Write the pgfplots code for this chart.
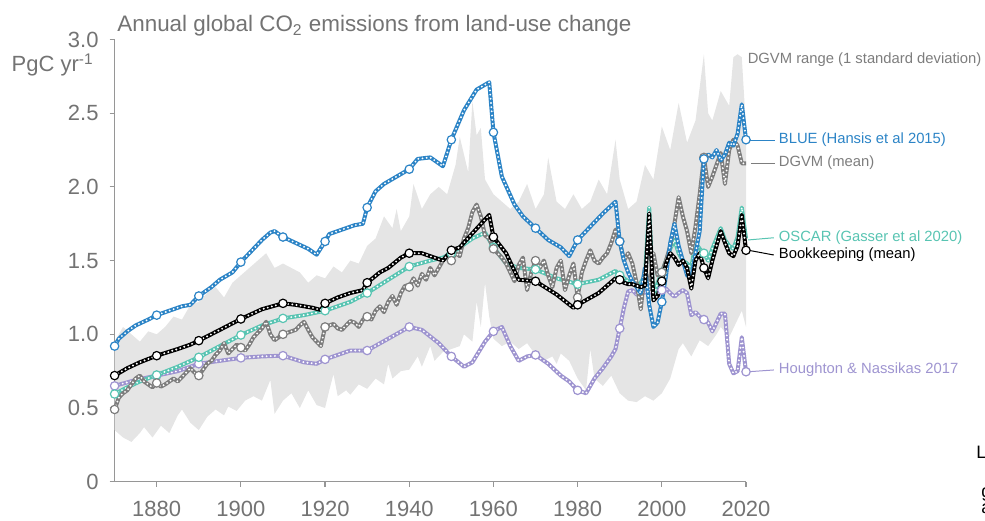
\documentclass[border=0pt]{standalone}
\usepackage{pgfplots}
\pgfplotsset{compat=1.18}
\usepackage{pgfplotstable}
\usepgfplotslibrary{fillbetween}
\usepackage{fontspec}
\setmainfont{Liberation Sans}

\definecolor{blueC}{RGB}{44,132,198}
\definecolor{tealC}{RGB}{88,196,178}
\definecolor{lavC}{RGB}{158,148,208}
\definecolor{dgvmC}{RGB}{125,125,125}
\definecolor{bandC}{RGB}{229,229,229}
\definecolor{txtC}{RGB}{115,115,115}
\definecolor{axC}{RGB}{150,150,150}

% BLUE (Hansis et al 2015)
\pgfplotstableread{
year val
1870 0.92
1871 0.97
1873 1.02
1875 1.06
1878 1.10
1880 1.13
1883 1.16
1886 1.19
1888 1.20
1890 1.26
1893 1.32
1895 1.37
1898 1.42
1900 1.49
1903 1.58
1905 1.64
1907 1.69
1908 1.70
1910 1.66
1913 1.62
1916 1.58
1918 1.54
1920 1.63
1921 1.68
1924 1.71
1927 1.74
1929 1.75
1930 1.86
1932 1.97
1934 2.02
1937 2.07
1940 2.12
1942 2.19
1945 2.20
1948 2.14
1950 2.32
1953 2.52
1956 2.66
1959 2.71
1960 2.37
1962 2.07
1965 1.88
1967 1.80
1970 1.72
1973 1.64
1976 1.59
1978 1.53
1980 1.64
1983 1.73
1986 1.82
1989 1.90
1990 1.63
1991 1.50
1992 1.42
1993 1.36
1994 1.32
1995 1.28
1996 1.45
1997 1.20
1998 1.05
1999 1.08
2000 1.22
2001 1.40
2002 1.62
2003 1.75
2004 1.60
2005 1.50
2006 1.40
2007 1.38
2008 1.55
2009 1.70
2010 2.19
2011 2.22
2012 2.20
2013 2.25
2014 2.18
2015 2.22
2016 2.30
2017 2.28
2018 2.36
2019 2.56
2020 2.32
}\blueT

% DGVM (mean)
\pgfplotstableread{
year val
1870 0.49
1871 0.57
1872 0.60
1873 0.62
1874 0.66
1875 0.70
1876 0.72
1877 0.68
1878 0.66
1879 0.64
1880 0.67
1881 0.645
1882 0.66
1883 0.68
1884 0.70
1885 0.68
1886 0.71
1887 0.74
1888 0.77
1889 0.74
1890 0.72
1891 0.76
1892 0.80
1893 0.82
1894 0.86
1895 0.89
1896 0.94
1897 0.87
1898 0.90
1899 0.93
1900 0.91
1901 0.89
1902 0.93
1903 0.98
1904 1.01
1905 1.04
1906 1.085
1907 1.00
1908 0.96
1909 0.98
1910 1.00
1911 1.01
1912 1.02
1913 1.03
1914 1.06
1915 1.085
1916 1.03
1917 0.98
1918 0.95
1919 0.92
1920 1.05
1921 1.06
1922 1.07
1923 1.04
1924 1.03
1925 1.06
1926 1.09
1927 1.08
1928 1.05
1929 1.10
1930 1.12
1931 1.10
1932 1.16
1933 1.19
1934 1.15
1935 1.22
1936 1.26
1937 1.20
1938 1.28
1939 1.33
1940 1.32
1941 1.38
1942 1.33
1943 1.41
1944 1.37
1945 1.45
1946 1.40
1947 1.45
1948 1.50
1949 1.53
1950 1.50
1951 1.55
1952 1.53
1953 1.65
1954 1.72
1955 1.83
1956 1.88
1957 1.80
1958 1.67
1959 1.65
1960 1.58
1961 1.55
1962 1.52
1963 1.48
1964 1.42
1965 1.36
1966 1.47
1967 1.52
1968 1.30
1969 1.42
1970 1.50
1971 1.45
1972 1.50
1973 1.40
1974 1.32
1975 1.45
1976 1.50
1977 1.30
1978 1.40
1979 1.48
1980 1.25
1981 1.42
1982 1.50
1983 1.57
1984 1.50
1985 1.48
1986 1.52
1987 1.55
1988 1.62
1989 1.71
1990 1.63
1991 1.50
1992 1.55
1993 1.48
1994 1.35
1995 1.17
1996 1.45
1997 1.30
1998 1.55
1999 1.40
2000 1.42
2001 1.50
2002 1.60
2003 1.75
2004 1.93
2005 1.80
2006 1.70
2007 1.55
2008 1.73
2009 1.95
2010 2.20
2011 2.00
2012 2.07
2013 2.15
2014 2.23
2015 2.02
2016 2.25
2017 2.32
2018 2.28
2019 2.16
2020 2.16
}\dgvmT

% OSCAR (Gasser et al 2020)
\pgfplotstableread{
year val
1870 0.595
1873 0.64
1876 0.68
1880 0.724
1885 0.78
1890 0.844
1895 0.92
1900 0.995
1905 1.06
1910 1.108
1915 1.13
1920 1.16
1926 1.22
1930 1.28
1935 1.37
1940 1.46
1945 1.50
1948 1.52
1950 1.55
1955 1.65
1958 1.69
1960 1.59
1963 1.48
1966 1.45
1970 1.44
1975 1.38
1980 1.34
1985 1.37
1989 1.43
1990 1.40
1991 1.38
1992 1.36
1993 1.35
1994 1.33
1995 1.35
1996 1.40
1997 1.86
1998 1.24
1999 1.35
2000 1.42
2001 1.50
2002 1.58
2003 1.64
2004 1.55
2005 1.50
2006 1.48
2007 1.45
2008 1.62
2009 1.58
2010 1.55
2011 1.50
2012 1.58
2013 1.65
2014 1.72
2015 1.64
2016 1.60
2017 1.58
2018 1.66
2019 1.86
2020 1.65
}\oscarT

% Bookkeeping (mean)
\pgfplotstableread{
year val
1870 0.72
1873 0.77
1876 0.81
1880 0.855
1885 0.90
1888 0.93
1890 0.957
1895 1.03
1900 1.104
1905 1.17
1910 1.21
1913 1.20
1917 1.18
1919 1.165
1920 1.21
1923 1.25
1926 1.28
1929 1.30
1930 1.35
1933 1.42
1935 1.45
1938 1.52
1940 1.55
1943 1.55
1946 1.52
1948 1.50
1950 1.57
1952 1.59
1955 1.685
1959 1.81
1960 1.66
1963 1.55
1966 1.37
1970 1.36
1975 1.27
1979 1.18
1980 1.20
1985 1.28
1989 1.38
1990 1.37
1991 1.35
1992 1.34
1993 1.34
1994 1.33
1995 1.32
1996 1.33
1997 1.82
1998 1.23
1999 1.26
2000 1.36
2001 1.48
2002 1.55
2003 1.52
2004 1.47
2005 1.50
2006 1.45
2007 1.31
2008 1.50
2009 1.55
2010 1.45
2011 1.38
2012 1.50
2013 1.60
2014 1.70
2015 1.62
2016 1.55
2017 1.53
2018 1.60
2019 1.81
2020 1.57
}\bookT

% Houghton & Nassikas 2017
\pgfplotstableread{
year val
1870 0.65
1875 0.69
1880 0.72
1885 0.75
1889 0.79
1890 0.80
1895 0.82
1900 0.84
1905 0.85
1910 0.855
1915 0.81
1918 0.80
1920 0.83
1923 0.86
1926 0.89
1930 0.89
1935 0.97
1940 1.05
1943 1.03
1947 0.94
1950 0.85
1953 0.78
1955 0.81
1958 0.95
1960 1.02
1962 1.05
1964 0.92
1966 0.82
1968 0.85
1970 0.86
1973 0.80
1976 0.72
1978 0.68
1980 0.62
1982 0.60
1984 0.70
1986 0.77
1988 0.85
1989 0.90
1990 1.04
1991 1.18
1992 1.29
1993 1.30
1994 1.27
1995 1.30
1996 1.28
1997 1.31
1998 1.26
1999 1.29
2000 1.30
2001 1.31
2002 1.28
2003 1.255
2004 1.28
2005 1.30
2006 1.28
2007 1.13
2008 1.15
2009 1.12
2010 1.10
2011 1.08
2012 1.02
2013 1.08
2014 1.14
2015 1.14
2016 0.80
2017 0.735
2018 0.75
2019 0.98
2020 0.746
}\hnT

% DGVM range, upper and lower edge
\pgfplotstableread{
year val
1870 0.95
1872 1.05
1874 1.00
1876 0.95
1878 1.02
1880 1.00
1882 1.05
1884 1.12
1886 1.10
1888 1.20
1890 1.22
1892 1.28
1894 1.32
1896 1.25
1898 1.35
1900 1.40
1902 1.45
1904 1.50
1906 1.55
1908 1.45
1910 1.48
1912 1.45
1914 1.42
1916 1.35
1918 1.40
1920 1.38
1922 1.46
1924 1.42
1926 1.50
1928 1.48
1930 1.60
1932 1.65
1934 1.80
1936 1.72
1937 1.85
1938 1.70
1940 1.80
1941 2.02
1943 1.85
1945 1.95
1947 2.00
1949 1.95
1951 2.15
1952 2.34
1954 2.10
1955 2.58
1956 2.35
1957 2.40
1958 2.05
1960 1.95
1962 1.90
1964 1.85
1966 1.90
1968 2.02
1970 1.85
1972 1.95
1973 2.20
1975 1.90
1977 1.85
1979 1.95
1981 1.85
1983 1.90
1985 2.05
1987 1.95
1989 2.32
1990 2.05
1992 1.85
1994 1.90
1996 2.15
1998 2.05
2000 2.41
2002 2.25
2004 2.57
2006 2.30
2008 2.45
2010 2.90
2011 2.50
2012 2.45
2014 2.65
2016 2.55
2017 2.88
2018 2.90
2019 2.88
2020 2.40
}\upT
\pgfplotstableread{
year val
1870 0.35
1872 0.30
1874 0.27
1876 0.33
1877 0.37
1879 0.30
1881 0.38
1883 0.33
1885 0.45
1886 0.49
1888 0.40
1890 0.35
1892 0.44
1894 0.49
1896 0.45
1897 0.51
1899 0.48
1901 0.55
1903 0.58
1905 0.55
1907 0.69
1908 0.46
1910 0.55
1912 0.60
1914 0.50
1916 0.62
1918 0.52
1920 0.50
1921 0.62
1922 0.73
1923 0.58
1925 0.62
1926 0.59
1928 0.66
1930 0.63
1932 0.70
1934 0.66
1935 0.80
1936 0.70
1938 0.75
1940 0.76
1942 0.85
1943 0.78
1945 0.92
1946 0.82
1948 0.88
1950 0.90
1952 0.92
1953 1.00
1955 0.95
1956 1.22
1957 1.05
1958 1.35
1959 1.12
1960 0.97
1962 0.92
1964 0.95
1966 0.90
1968 0.94
1970 0.86
1972 0.82
1974 0.85
1975 0.80
1976 0.87
1978 0.82
1980 0.70
1982 0.62
1983 0.90
1984 0.70
1986 0.65
1988 0.72
1990 0.60
1992 0.55
1994 0.54
1996 0.58
1998 0.55
2000 0.60
2002 0.70
2004 0.90
2005 0.94
2007 0.85
2009 0.96
2011 0.92
2013 1.00
2014 1.05
2016 0.98
2018 1.10
2019 1.16
2020 1.05
}\loT

\pgfplotsset{
  ser/.style={line width=2pt, draw=#1, line join=round, mark=none},
  dots/.style={white, line width=1.05pt, dash pattern=on 0pt off 2.1pt, line cap=round, mark=none},
  big/.style={only marks, mark=*, mark size=2.1pt, mark options={fill=white, draw=#1, line width=0.6pt}},
  dec/.style={x filter/.expression={abs(x/10-round(x/10))<0.01 ? x : nan}},
  decb/.style={x filter/.expression={x>2015 ? nan : (abs(x/10-round(x/10))<0.01 ? x : nan)}},
}

\begin{document}
\begin{tikzpicture}
\begin{axis}[
  at={(57.3pt,19.15pt)}, anchor=south west,
  scale only axis, width=315.7pt, height=221.1pt,
  xmin=1870, xmax=2020, ymin=0, ymax=3,
  axis x line*=bottom, axis y line*=left,
  axis line style={draw=axC, line width=0.6pt},
  tick style={draw=axC, line width=0.6pt},
  tick align=outside, major tick length=2.5pt,
  xtick={1880,1900,...,2020},
  xticklabels={1880,1900,1920,1940,1960,1980,2000,2020},
  ytick={0,0.5,...,3},
  yticklabels={0,0.5,1.0,1.5,2.0,2.5,3.0},
  ticklabel style={font=\fontsize{11}{13}\selectfont, text=txtC},
  xticklabel style={yshift=-3.5pt},
  yticklabel style={xshift=-2pt},
  clip=false,
]
\addplot[draw=none, name path=up] table[x=year,y=val]{\upT};
\addplot[draw=none, name path=lo] table[x=year,y=val]{\loT};
\addplot[bandC, draw=none] fill between[of=up and lo];

\addplot[ser=lavC] table[x=year,y=val]{\hnT};
\addplot[dots] table[x=year,y=val]{\hnT};
\addplot[big=lavC, dec] table[x=year,y=val]{\hnT};

\addplot[ser=tealC] table[x=year,y=val]{\oscarT};
\addplot[dots] table[x=year,y=val]{\oscarT};
\addplot[big=tealC, decb] table[x=year,y=val]{\oscarT};

\addplot[ser=dgvmC] table[x=year,y=val]{\dgvmT};
\addplot[dots] table[x=year,y=val]{\dgvmT};
\addplot[big=dgvmC, decb] table[x=year,y=val]{\dgvmT};

\addplot[ser=blueC] table[x=year,y=val]{\blueT};
\addplot[dots] table[x=year,y=val]{\blueT};
\addplot[big=blueC, dec] table[x=year,y=val]{\blueT};

\addplot[ser=black] table[x=year,y=val]{\bookT};
\addplot[dots] table[x=year,y=val]{\bookT};
\addplot[big=black, dec] table[x=year,y=val]{\bookT};

% labels at the right end
\begin{scope}[font=\fontsize{7.4}{9}\selectfont, line width=0.5pt]
\node[anchor=west, inner sep=0pt, text=dgvmC] at (axis cs:2020.3,2.86) {DGVM range (1 standard deviation)};
\draw[blueC] (axis cs:2020.6,2.318) -- (axis cs:2027,2.318);
\node[anchor=west, inner sep=0pt, text=blueC] at (axis cs:2027.7,2.318) {BLUE (Hansis et al 2015)};
\draw[dgvmC] (axis cs:2021.3,2.162) -- (axis cs:2027,2.162);
\node[anchor=west, inner sep=0pt, text=dgvmC] at (axis cs:2027.7,2.162) {DGVM (mean)};
\draw[tealC] (axis cs:2020.5,1.64) -- (axis cs:2026.6,1.655);
\node[anchor=west, inner sep=0pt, text=tealC] at (axis cs:2027.7,1.655) {OSCAR (Gasser et al 2020)};
\draw[black] (axis cs:2020.6,1.57) -- (axis cs:2026.6,1.538);
\node[anchor=west, inner sep=0pt, text=black] at (axis cs:2027.7,1.538) {Bookkeeping (mean)};
\draw[lavC] (axis cs:2020.6,0.746) -- (axis cs:2026.6,0.758);
\node[anchor=west, inner sep=0pt, text=lavC] at (axis cs:2027.7,0.758) {Houghton \& Nassikas 2017};
\end{scope}
\end{axis}
\node[anchor=base west, inner sep=0pt, text=txtC, font=\fontsize{11.2}{13}\selectfont]
  at (58.5pt,244pt) {Annual global CO\textsubscript{2} emissions from land-use change};
\node[anchor=base east, inner sep=0pt, text=txtC, font=\fontsize{11}{13}\selectfont]
  at (47pt,224pt) {PgC yr\textsuperscript{-1}};
\begin{scope}[font=\fontsize{9}{10}\selectfont, inner sep=0pt, anchor=base west]
\node at (488pt,31pt) {L};
\node at (490.5pt,11.5pt) {g};
\node at (490.5pt,3.5pt) {a};
\end{scope}
\pgfresetboundingbox
\useasboundingbox (0,0) rectangle (492.5pt,260pt);
\end{tikzpicture}
\end{document}
